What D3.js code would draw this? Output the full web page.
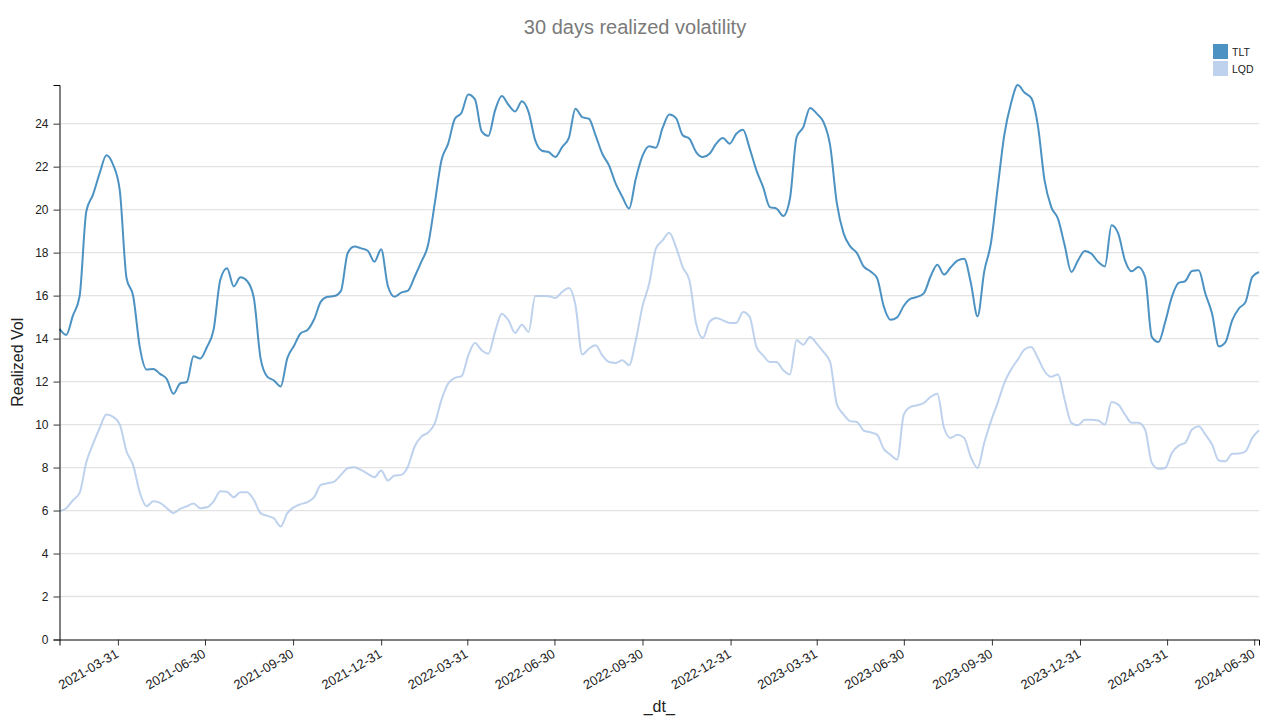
<!DOCTYPE html>
<html>
<head>
<meta charset="utf-8">
<script src="https://cdn.jsdelivr.net/npm/d3@7"></script>
<style>
  html, body { margin: 0; padding: 0; background: #fff; }
  svg { display: block; font-family: "Liberation Sans", Arial, Helvetica, sans-serif; }
</style>
</head>
<body>
<svg id="chart" width="1276" height="721"></svg>
<script>
// ---- data (weekly observations, first week ending 2021-01-29) ----
const seriesNames = ["TLT", "LQD"];
const firstDate = "2021-01-29";
const tltVol = [
  14.45, 14.17, 15.07, 15.97, 19.92, 20.70, 21.70, 22.53, 22.09, 20.88,
  16.82, 15.97, 13.57, 12.56, 12.59, 12.36, 12.12, 11.43, 11.91, 11.98,
  13.18, 13.07, 13.61, 14.42, 16.74, 17.27, 16.43, 16.85, 16.68, 15.89,
  13.09, 12.23, 12.05, 11.77, 13.09, 13.67, 14.25, 14.40, 14.90, 15.72,
  15.95, 15.98, 16.22, 17.97, 18.28, 18.20, 18.09, 17.58, 18.16, 16.45,
  15.95, 16.14, 16.23, 16.88, 17.58, 18.36, 20.29, 22.30, 23.07, 24.23,
  24.51, 25.36, 25.13, 23.64, 23.43, 24.62, 25.29, 24.88, 24.57, 25.04,
  24.54, 23.22, 22.74, 22.68, 22.45, 22.91, 23.33, 24.70, 24.31, 24.23,
  23.46, 22.60, 22.06, 21.21, 20.59, 20.05, 21.44, 22.50, 22.95, 22.88,
  23.80, 24.43, 24.26, 23.46, 23.30, 22.68, 22.45, 22.60, 23.07, 23.33,
  23.07, 23.53, 23.72, 22.84, 21.83, 21.05, 20.12, 20.05, 19.71, 20.51,
  23.38, 23.84, 24.73, 24.47, 24.08, 22.99, 20.30, 18.91, 18.29, 17.98,
  17.36, 17.13, 16.82, 15.50, 14.88, 14.99, 15.53, 15.86, 15.94, 16.12,
  16.90, 17.44, 16.98, 17.32, 17.63, 17.71, 16.59, 15.04, 17.13, 18.45,
  21.01, 23.49, 24.95, 25.80, 25.45, 25.20, 23.92, 21.36, 20.12, 19.58,
  18.34, 17.10, 17.64, 18.08, 17.95, 17.57, 17.36, 19.27, 18.88, 17.64,
  17.13, 17.33, 16.87, 14.08, 13.84, 14.77, 15.94, 16.59, 16.68, 17.15,
  17.18, 16.09, 15.16, 13.64, 13.84, 14.85, 15.40, 15.71, 16.87, 17.10
];
const lqdVol = [
  5.97, 6.11, 6.48, 6.82, 8.25, 9.10, 9.84, 10.47, 10.36, 10.00,
  8.76, 8.10, 6.82, 6.20, 6.43, 6.36, 6.12, 5.89, 6.08, 6.20,
  6.33, 6.11, 6.15, 6.43, 6.90, 6.87, 6.62, 6.85, 6.85, 6.50,
  5.88, 5.75, 5.64, 5.26, 5.88, 6.16, 6.30, 6.39, 6.62, 7.19,
  7.27, 7.35, 7.66, 7.97, 8.02, 7.89, 7.71, 7.55, 7.86, 7.40,
  7.63, 7.66, 8.05, 8.98, 9.44, 9.63, 10.06, 11.15, 11.91, 12.17,
  12.25, 13.22, 13.80, 13.46, 13.30, 14.31, 15.16, 14.85, 14.26, 14.65,
  14.31, 15.98, 15.98, 15.97, 15.89, 16.17, 16.36, 15.55, 13.26, 13.53,
  13.69, 13.22, 12.91, 12.87, 12.99, 12.76, 13.92, 15.50, 16.56, 18.19,
  18.57, 18.93, 18.26, 17.33, 16.71, 14.70, 14.03, 14.78, 14.96, 14.85,
  14.73, 14.73, 15.24, 15.01, 13.61, 13.22, 12.91, 12.91, 12.53, 12.33,
  13.92, 13.72, 14.08, 13.77, 13.38, 12.91, 10.95, 10.47, 10.16, 10.12,
  9.72, 9.64, 9.53, 8.87, 8.60, 8.37, 10.47, 10.82, 10.90, 11.01,
  11.29, 11.44, 9.84, 9.38, 9.53, 9.38, 8.48, 7.98, 9.15, 10.16,
  11.01, 11.94, 12.56, 13.02, 13.49, 13.61, 13.10, 12.48, 12.22, 12.33,
  11.16, 10.08, 9.97, 10.23, 10.23, 10.19, 10.00, 11.05, 10.93, 10.47,
  10.08, 10.08, 9.77, 8.22, 7.94, 7.98, 8.68, 9.02, 9.15, 9.77,
  9.92, 9.53, 9.07, 8.33, 8.29, 8.64, 8.65, 8.76, 9.38, 9.74
];
const xTickLabels = [
  "2021-03-31", "2021-06-30", "2021-09-30", "2021-12-31",
  "2022-03-31", "2022-06-30", "2022-09-30", "2022-12-31",
  "2023-03-31", "2023-06-30", "2023-09-30", "2023-12-31",
  "2024-03-31", "2024-06-30"
];
const yTickValues = [0, 2, 4, 6, 8, 10, 12, 14, 16, 18, 20, 22, 24];
const seriesColors = ["#1f77b4", "#aec7e8"];

// ---- layout ----
const W = 1276, H = 721;
const margin = { top: 85, right: 17, bottom: 81.5, left: 59.5 };
const innerW = W - margin.left - margin.right;
const innerH = H - margin.top - margin.bottom;

const parse = d3.utcParse("%Y-%m-%d");
const start = parse(firstDate);
const dates = tltVol.map((_, i) => d3.utcDay.offset(start, 7 * i));
const series = [
  { name: seriesNames[0], values: tltVol, color: seriesColors[0] },
  { name: seriesNames[1], values: lqdVol, color: seriesColors[1] }
];

const svg = d3.select("#chart");
const g = svg.append("g").attr("transform", `translate(${margin.left},${margin.top})`);

const x = d3.scaleUtc().domain(d3.extent(dates)).range([0, innerW]);
const y = d3.scaleLinear()
  .domain([0, d3.max([...tltVol, ...lqdVol])])
  .range([innerH, 0]);

// gridlines
g.append("g").selectAll("line").data(yTickValues.filter(v => v > 0)).join("line")
  .attr("x1", 0).attr("x2", innerW)
  .attr("y1", d => y(d)).attr("y2", d => y(d))
  .attr("stroke", "#e3e3e3").attr("stroke-width", 1.3);

// lines
const line = d3.line()
  .x((d, i) => x(dates[i]))
  .y(d => y(d))
  .curve(d3.curveMonotoneX);

g.append("g").selectAll("path").data(series).join("path")
  .attr("d", d => line(d.values))
  .attr("fill", "none")
  .attr("stroke", d => d.color)
  .attr("stroke-opacity", 0.8)
  .attr("stroke-width", 2)
  .attr("stroke-linejoin", "round");

// y axis
const yAxis = g.append("g")
  .call(d3.axisLeft(y).tickValues(yTickValues).tickSize(6).tickPadding(5).tickFormat(d3.format("d")));
yAxis.select(".domain").attr("stroke", "#000");
yAxis.selectAll(".tick line").attr("stroke", "#333");
yAxis.selectAll("text").attr("font-size", 12).attr("fill", "#222")
  .style("font-family", "'Liberation Sans', Arial, sans-serif");

// x axis
const xAxis = g.append("g").attr("transform", `translate(0,${innerH})`)
  .call(d3.axisBottom(x).tickValues(xTickLabels.map(parse)).tickSize(6)
    .tickFormat(d3.utcFormat("%Y-%m-%d")));
xAxis.select(".domain").attr("stroke", "#000");
xAxis.selectAll(".tick line").attr("stroke", "#333");
xAxis.selectAll("text")
  .attr("font-size", 13).attr("fill", "#222")
  .style("font-family", "'Liberation Sans', Arial, sans-serif")
  .attr("text-anchor", "end")
  .attr("x", 0).attr("y", 0).attr("dy", 0)
  .attr("transform", "translate(1,17) rotate(-30)");

// axis labels
svg.append("text")
  .attr("transform", `translate(23,${margin.top + innerH / 2}) rotate(-90)`)
  .attr("text-anchor", "middle")
  .attr("font-size", 16).attr("fill", "#222")
  .text("Realized Vol");

svg.append("text")
  .attr("x", margin.left + innerW / 2).attr("y", 712)
  .attr("text-anchor", "middle")
  .attr("font-size", 16).attr("fill", "#222")
  .text("_dt_");

// title
svg.append("text")
  .attr("x", 635).attr("y", 34)
  .attr("text-anchor", "middle")
  .attr("font-size", 20).attr("fill", "#7a7a7a")
  .text("30 days realized volatility");

// legend
const legend = svg.append("g").attr("transform", "translate(1213,44)");
const li = legend.selectAll("g").data(series).join("g")
  .attr("transform", (d, i) => `translate(0,${i * 17})`);
li.append("rect").attr("width", 15).attr("height", 15)
  .attr("fill", d => d.color).attr("fill-opacity", 0.8);
li.append("text").attr("x", 19).attr("y", 12)
  .attr("font-size", 10.5).attr("fill", "#222")
  .text(d => d.name);
</script>
</body>
</html>
